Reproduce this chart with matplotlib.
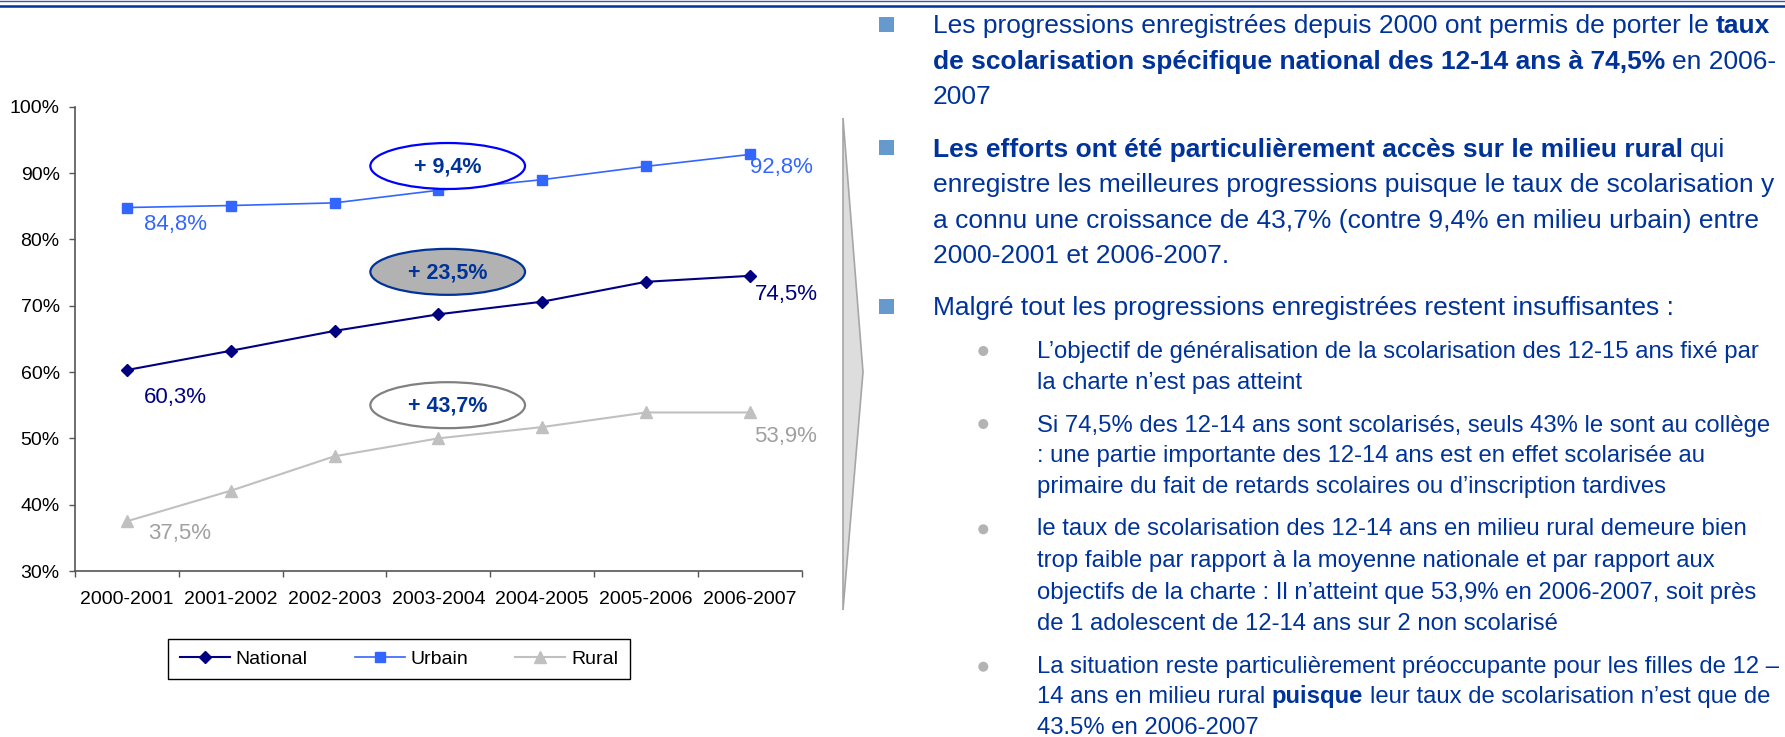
import matplotlib
matplotlib.use('Agg')
import numpy as np
import matplotlib.pyplot as plt
from matplotlib.patches import Ellipse, Polygon, Rectangle, Circle

plt.rcParams['font.family'] = ['Liberation Sans', 'DejaVu Sans']

# ---------------- data ----------------
categories = ['2000-2001', '2001-2002', '2002-2003', '2003-2004',
              '2004-2005', '2005-2006', '2006-2007']
national = [60.3, 63.2, 66.2, 68.7, 70.6, 73.6, 74.5]
urbain = [84.8, 85.1, 85.5, 87.4, 89.0, 91.0, 92.8]
rural = [37.5, 42.1, 47.3, 50.0, 51.7, 53.9, 53.9]
series_names = ['National', 'Urbain', 'Rural']
yticks = [30, 40, 50, 60, 70, 80, 90, 100]

W, H, DPI = 1785, 737, 100
fig = plt.figure(figsize=(W / DPI, H / DPI), dpi=DPI)
fig.patch.set_facecolor('white')

# ---------------- chart ----------------
ax = fig.add_axes([75 / W, 1 - 571 / H, 726.7 / W, 464.3 / H])
x = np.arange(len(categories)) + 0.5
C_NAT, C_URB, C_RUR = '#000080', '#3366FF', '#C0C0C0'
ax.plot(x, national, color=C_NAT, lw=1.5, marker='D', ms=6, label=series_names[0], zorder=3)
ax.plot(x, urbain, color=C_URB, lw=1.2, marker='s', ms=7.5, label=series_names[1], zorder=3)
ax.plot(x, rural, color=C_RUR, lw=1.5, marker='^', ms=8.4, label=series_names[2], zorder=3)

ax.set_xlim(0, len(categories))
ax.set_ylim(30, 100)
ax.set_yticks(yticks)
ax.set_yticklabels([f'{v}%' for v in yticks])
ax.set_xticks(np.arange(len(categories) + 1))
ax.set_xticklabels([])
ax.set_xticks(x, minor=True)
ax.set_xticklabels(categories, minor=True)
AXC = '#555555'
ax.tick_params(axis='both', which='major', length=4, width=1, color=AXC, direction='out')
ax.tick_params(axis='y', pad=7, labelsize=14)
ax.tick_params(axis='x', which='minor', length=0, pad=14.5, labelsize=14)
for s in ['top', 'right']:
    ax.spines[s].set_visible(False)
for s in ['left', 'bottom']:
    ax.spines[s].set_color(AXC)
    ax.spines[s].set_linewidth(1.2)
ax.set_facecolor('none')

# value labels at first and last points
def fmt(v):
    return f'{v:.1f}%'.replace('.', ',')

lab = dict(textcoords='offset pixels', ha='left', va='center', fontsize=16, annotation_clip=False)
ax.annotate(fmt(urbain[0]), (x[0], urbain[0]), xytext=(17, -16.5), color=C_URB, **lab)
ax.annotate(fmt(national[0]), (x[0], national[0]), xytext=(17, -27), color=C_NAT, **lab)
ax.annotate(fmt(rural[0]), (x[0], rural[0]), xytext=(21, -12), color='#A0A0A0', **lab)
ax.annotate(fmt(urbain[-1]), (x[-1], urbain[-1]), xytext=(0, -13.5), color=C_URB, **lab)
ax.annotate(fmt(national[-1]), (x[-1], national[-1]), xytext=(5, -19), color=C_NAT, **lab)
ax.annotate(fmt(rural[-1]), (x[-1], rural[-1]), xytext=(4, -24.5), color='#A0A0A0', **lab)

# growth ellipses
def growth(s):
    return '+ ' + f'{(s[-1] / s[0] - 1) * 100:.1f}%'.replace('.', ',')

ell_specs = [(urbain, 91.06, 'white', '#0000FF'),
             (national, 75.1, '#B2B2B2', '#003399'),
             (rural, 55.0, 'white', '#808080')]
for s, yc, fc, ec in ell_specs:
    e = Ellipse((3.59, yc), width=1.49, height=6.93, facecolor=fc, edgecolor=ec,
                lw=1.6, zorder=5, clip_on=False)
    ax.add_patch(e)
    ax.text(3.59, yc - 0.1, growth(s), ha='center', va='center', fontsize=15.5,
            fontweight='bold', color='#003399', zorder=6)

leg = ax.legend(loc='center', bbox_to_anchor=(398.9 / W, 1 - 659 / H),
                bbox_transform=fig.transFigure, ncol=3, fontsize=14, frameon=True,
                fancybox=False, framealpha=1, edgecolor='black', handlelength=2.58,
                handletextpad=0.3, columnspacing=2.4, borderpad=0.6)
leg.get_frame().set_linewidth(1.0)

# ---------------- overlay (pixel coordinates) ----------------
ov = fig.add_axes([0, 0, 1, 1])
ov.set_xlim(0, W)
ov.set_ylim(H, 0)
ov.set_axis_off()

# header lines
ov.axhline(0.7, color='#3355BB', lw=1.0)
ov.axhline(5.5, color='#003399', lw=1.8)

# chevron arrow
ov.add_patch(Polygon([(843, 118), (863, 372), (843, 610)], closed=True,
                     facecolor='#DDDDDD', edgecolor='#A6A6A6', lw=1.2))

TXT = '#003399'
renderer = fig.canvas.get_renderer()

def draw_runs(x0, y, runs, size):
    xx = x0
    sp = 0.278 * size * DPI / 72
    for s, bold in runs:
        t = ov.text(xx, y, s, fontsize=size, fontweight='bold' if bold else 'normal',
                    color=TXT, va='baseline', ha='left')
        xx += t.get_window_extent(renderer).width + sp

F, T = False, True
MAIN, SUB = 19, 17.2
XM, XS = 932.7, 1036.7

main_bullets = [
    (24, [(33, [("Les progressions enregistrées depuis 2000 ont permis de porter le", F), ("taux", T)]),
          (68.5, [("de scolarisation spécifique national des 12-14 ans à 74,5%", T), ("en 2006-", F)]),
          (104, [("2007", F)])]),
    (147.7, [(156.5, [("Les efforts ont été particulièrement accès sur le milieu rural", T), ("qui", F)]),
             (192, [("enregistre les meilleures progressions puisque le taux de scolarisation y", F)]),
             (227.5, [("a connu une croissance de 43,7% (contre 9,4% en milieu urbain) entre", F)]),
             (263, [("2000-2001 et 2006-2007.", F)])]),
    (306.5, [(315, [("Malgré tout les progressions enregistrées restent insuffisantes :", F)])]),
]
for yb, lines in main_bullets:
    ov.add_patch(Rectangle((879, yb - 7.5), 15, 15, facecolor='#6699CC', edgecolor='none'))
    for yl, runs in lines:
        draw_runs(XM, yl, runs, MAIN)

sub_bullets = [
    (351, [(358, [("L’objectif de généralisation de la scolarisation des 12-15 ans fixé par", F)]),
           (388.5, [("la charte n’est pas atteint", F)])]),
    (424, [(431.7, [("Si 74,5% des 12-14 ans sont scolarisés, seuls 43% le sont au collège", F)]),
           (462, [(": une partie importante des 12-14 ans est en effet scolarisée au", F)]),
           (493, [("primaire du fait de retards scolaires ou d’inscription tardives", F)])]),
    (529.3, [(535, [("le taux de scolarisation des 12-14 ans en milieu rural demeure bien", F)]),
             (567, [("trop faible par rapport à la moyenne nationale et par rapport aux", F)]),
             (599, [("objectifs de la charte : Il n’atteint que 53,9% en 2006-2007, soit près", F)]),
             (630.5, [("de 1 adolescent de 12-14 ans sur 2 non scolarisé", F)])]),
    (666.7, [(672.7, [("La situation reste particulièrement préoccupante pour les filles de 12 –", F)]),
             (703, [("14 ans en milieu rural", F), ("puisque", T), ("leur taux de scolarisation n’est que de", F)]),
             (733.5, [("43.5% en 2006-2007", F)])]),
]
for yb, lines in sub_bullets:
    ov.add_patch(Circle((983.3, yb), 5, facecolor='#B3B3B3', edgecolor='none'))
    for yl, runs in lines:
        draw_runs(XS, yl, runs, SUB)

fig.savefig('out.png', dpi=DPI, facecolor='white')
